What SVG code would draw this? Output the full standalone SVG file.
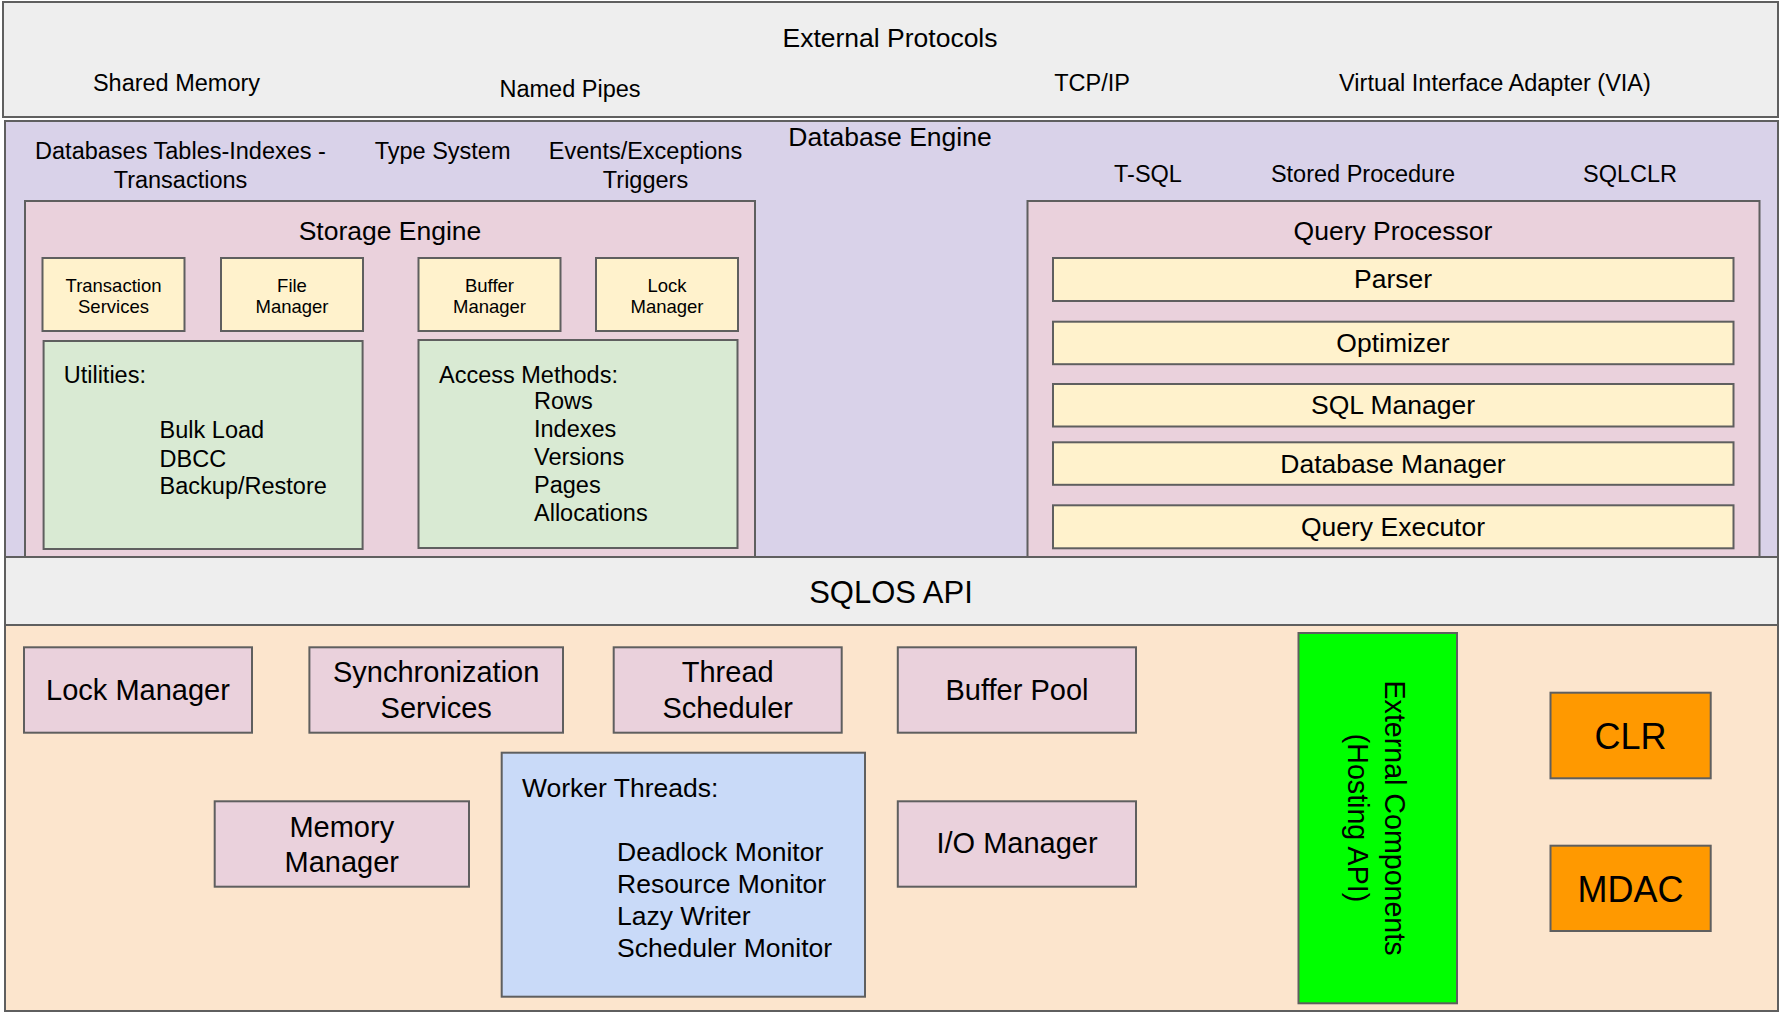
<svg xmlns="http://www.w3.org/2000/svg" width="1779" height="1014" viewBox="0 0 1779 1014">
<style>
rect{stroke:#5f5f5f;stroke-width:2}
text{font-family:"Liberation Sans",Arial,sans-serif;fill:#000}
.c{text-anchor:middle}
.gray{fill:#eeeeee}
.purple{fill:#d9d2e9}
.pink{fill:#ead1dc}
.yellow{fill:#fff2cc}
.green{fill:#d9ead3}
.peach{fill:#fce5cd}
.blue{fill:#c9daf8}
.lime{fill:#00ff00}
.orange{fill:#ff9900}
.f18{font-size:18.5px}
.f23{font-size:23.5px}
.f26{font-size:26.5px}
.f28{font-size:28.6px}
.f29{font-size:29px}
.f31{font-size:31px}
.f36{font-size:36px}
</style>
<rect width="1779" height="1014" fill="#ffffff" style="stroke:none"/>

<g id="external-protocols">
<rect class="gray" x="3" y="2" width="1775" height="115"/>
<text class="c f26" x="890" y="47">External Protocols</text>
<text class="c f23" x="176.5" y="90.7">Shared Memory</text>
<text class="c f23" x="570" y="96.7">Named Pipes</text>
<text class="c f23" x="1092" y="90.7">TCP/IP</text>
<text class="c f23" x="1495" y="90.7">Virtual Interface Adapter (VIA)</text>
</g>

<g id="database-engine">
<rect class="purple" x="5" y="121" width="1773" height="436"/>
<text class="c f26" x="890" y="146">Database Engine</text>
<text class="c f23" x="180.5" y="159">Databases Tables-Indexes -</text>
<text class="c f23" x="180.5" y="188">Transactions</text>
<text class="c f23" x="442.6" y="159">Type System</text>
<text class="c f23" x="645.5" y="159">Events/Exceptions</text>
<text class="c f23" x="645.5" y="188">Triggers</text>
<text class="c f23" x="1148" y="182">T-SQL</text>
<text class="c f23" x="1363" y="182">Stored Procedure</text>
<text class="c f23" x="1630" y="182">SQLCLR</text>
</g>

<g id="storage-engine">
<rect class="pink" x="25" y="201" width="730" height="356"/>
<text class="c f26" x="390" y="240">Storage Engine</text>
</g>

<g id="transaction-services">
<rect class="yellow" x="42.5" y="258" width="142" height="73"/>
<text class="c f18" x="113.5" y="291.7">Transaction</text>
<text class="c f18" x="113.5" y="313.3">Services</text>
</g>
<g id="file-manager">
<rect class="yellow" x="221" y="258" width="142" height="73"/>
<text class="c f18" x="292" y="291.7">File</text>
<text class="c f18" x="292" y="313.3">Manager</text>
</g>
<g id="buffer-manager">
<rect class="yellow" x="418.5" y="258" width="142" height="73"/>
<text class="c f18" x="489.5" y="291.7">Buffer</text>
<text class="c f18" x="489.5" y="313.3">Manager</text>
</g>
<g id="lock-manager-se">
<rect class="yellow" x="596" y="258" width="142" height="73"/>
<text class="c f18" x="667" y="291.7">Lock</text>
<text class="c f18" x="667" y="313.3">Manager</text>
</g>

<g id="utilities">
<rect class="green" x="43.6" y="341" width="319" height="208"/>
<text class="f23" x="63.7" y="382.7">Utilities:</text>
<text class="f23" x="159.6" y="438.3">Bulk Load</text>
<text class="f23" x="159.6" y="466.5">DBCC</text>
<text class="f23" x="159.6" y="494.3">Backup/Restore</text>
</g>

<g id="access-methods">
<rect class="green" x="418.5" y="340" width="319" height="208"/>
<text class="f23" x="439" y="382.7">Access Methods:</text>
<text class="f23" x="534" y="409.3">Rows</text>
<text class="f23" x="534" y="437.3">Indexes</text>
<text class="f23" x="534" y="465.3">Versions</text>
<text class="f23" x="534" y="492.7">Pages</text>
<text class="f23" x="534" y="521">Allocations</text>
</g>

<g id="query-processor">
<rect class="pink" x="1027.5" y="201" width="732" height="356"/>
<text class="c f26" x="1393" y="240">Query Processor</text>
</g>
<g id="parser">
<rect class="yellow" x="1053" y="258" width="680.5" height="43"/>
<text class="c f26" x="1393" y="288.3">Parser</text>
</g>
<g id="optimizer">
<rect class="yellow" x="1053" y="321.7" width="680.5" height="42.5"/>
<text class="c f26" x="1393" y="351.7">Optimizer</text>
</g>
<g id="sql-manager">
<rect class="yellow" x="1053" y="384" width="680.5" height="42.5"/>
<text class="c f26" x="1393" y="414.3">SQL Manager</text>
</g>
<g id="database-manager">
<rect class="yellow" x="1053" y="442.3" width="680.5" height="42.5"/>
<text class="c f26" x="1393" y="472.7">Database Manager</text>
</g>
<g id="query-executor">
<rect class="yellow" x="1053" y="505.3" width="680.5" height="43"/>
<text class="c f26" x="1393" y="536">Query Executor</text>
</g>

<g id="sqlos-api">
<rect class="gray" x="5" y="557" width="1773" height="68"/>
<text class="c f31" x="891" y="602.7">SQLOS API</text>
</g>

<g id="sqlos">
<rect class="peach" x="5" y="625" width="1773" height="386"/>
</g>

<g id="lock-manager">
<rect class="pink" x="24" y="647.3" width="228" height="85.4"/>
<text class="c f29" x="138" y="700">Lock Manager</text>
</g>
<g id="synchronization-services">
<rect class="pink" x="309.4" y="647.3" width="253.6" height="85.4"/>
<text class="c f29" x="436.2" y="681.7">Synchronization</text>
<text class="c f29" x="436.2" y="717.7">Services</text>
</g>
<g id="thread-scheduler">
<rect class="pink" x="613.7" y="647.3" width="228" height="85.4"/>
<text class="c f29" x="727.7" y="681.7">Thread</text>
<text class="c f29" x="727.7" y="717.7">Scheduler</text>
</g>
<g id="buffer-pool">
<rect class="pink" x="897.8" y="647.3" width="238.2" height="85.4"/>
<text class="c f29" x="1017" y="700">Buffer Pool</text>
</g>
<g id="memory-manager">
<rect class="pink" x="214.7" y="801.3" width="254.3" height="85.4"/>
<text class="c f29" x="341.8" y="836.7">Memory</text>
<text class="c f29" x="341.8" y="871.7">Manager</text>
</g>
<g id="worker-threads">
<rect class="blue" x="501.7" y="752.7" width="363.3" height="244"/>
<text class="f26" x="522" y="797.3">Worker Threads:</text>
<text class="f26" x="617" y="860.7">Deadlock Monitor</text>
<text class="f26" x="617" y="892.8">Resource Monitor</text>
<text class="f26" x="617" y="924.8">Lazy Writer</text>
<text class="f26" x="617" y="956.7">Scheduler Monitor</text>
</g>
<g id="io-manager">
<rect class="pink" x="897.8" y="801.3" width="238.2" height="85.4"/>
<text class="c f29" x="1017" y="853.3">I/O Manager</text>
</g>
<g id="external-components">
<rect class="lime" x="1298.5" y="633" width="158.5" height="370.3"/>
<g transform="translate(1377.7 818) rotate(90)">
<text class="c f28" x="0" y="-7.3">External Components</text>
<text class="c f28" x="0" y="29.7">(Hosting API)</text>
</g>
</g>
<g id="clr">
<rect class="orange" x="1550.5" y="692.7" width="160.2" height="85.6"/>
<text class="c f36" x="1630.6" y="749.3">CLR</text>
</g>
<g id="mdac">
<rect class="orange" x="1550.5" y="845.7" width="160.2" height="85.3"/>
<text class="c f36" x="1630.6" y="901.7">MDAC</text>
</g>

<g id="connectors"/>
</svg>
